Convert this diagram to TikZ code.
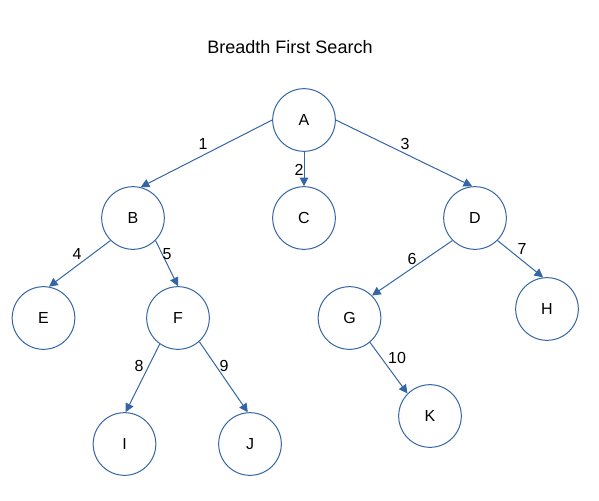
\documentclass[tikz,border=0pt]{standalone}
\usepackage{fontspec}
\setmainfont{Liberation Sans}
\usetikzlibrary{arrows.meta}
\definecolor{nodeblue}{HTML}{3465A4}
\begin{document}
\begin{tikzpicture}[x=.75pt, y=-.75pt,
  vertex/.style={draw=nodeblue, line width=.75pt, circle, minimum size=47pt, inner sep=0pt, font=\fontsize{12}{14}\selectfont},
  edge/.style={draw=nodeblue, line width=.75pt, -{Triangle[length=6.5pt, width=6.5pt]}},
  lbl/.style={inner sep=0pt, font=\fontsize{12}{14}\selectfont}]
\useasboundingbox (0,0) rectangle (599,500);
\node[font=\fontsize{13.5}{16}\selectfont] (title) at (290,47) {Breadth First Search};
\node[vertex] (A) at (304,120) {A};
\node[vertex] (B) at (133,218) {B};
\node[vertex] (C) at (304,218) {C};
\node[vertex] (D) at (475,218) {D};
\node[vertex] (E) at (43.5,318) {E};
\node[vertex] (F) at (178,318) {F};
\node[vertex] (G) at (349.5,318) {G};
\node[vertex] (H) at (547,309) {H};
\node[vertex] (I) at (124.5,444) {I};
\node[vertex] (J) at (250,444) {J};
\node[vertex] (K) at (430,416) {K};
\path[edge] (A.west) -- (B.76);
\path[edge] (A.south) -- (C.north);
\path[edge] (A.east) -- (D.95);
\path[edge] (B.225) -- (E.80);
\path[edge] (B.-45) -- (F.north);
\path[edge] (D.225) -- (G.45);
\path[edge] (D.-45) -- (H.97);
\path[edge] (F.235) -- (I.88);
\path[edge] (F.-48) -- (J.94);
\path[edge] (G.-50) -- (K.135);
\node[lbl] (l1) at (203,144) {1};
\node[lbl] (l2) at (299,170) {2};
\node[lbl] (l3) at (405,144) {3};
\node[lbl] (l4) at (77,254) {4};
\node[lbl] (l5) at (167,254) {5};
\node[lbl] (l6) at (412,259) {6};
\node[lbl] (l7) at (522,249) {7};
\node[lbl] (l8) at (139,366) {8};
\node[lbl] (l9) at (224,366) {9};
\node[lbl] (l10) at (397,358) {10};
\end{tikzpicture}
\end{document}
